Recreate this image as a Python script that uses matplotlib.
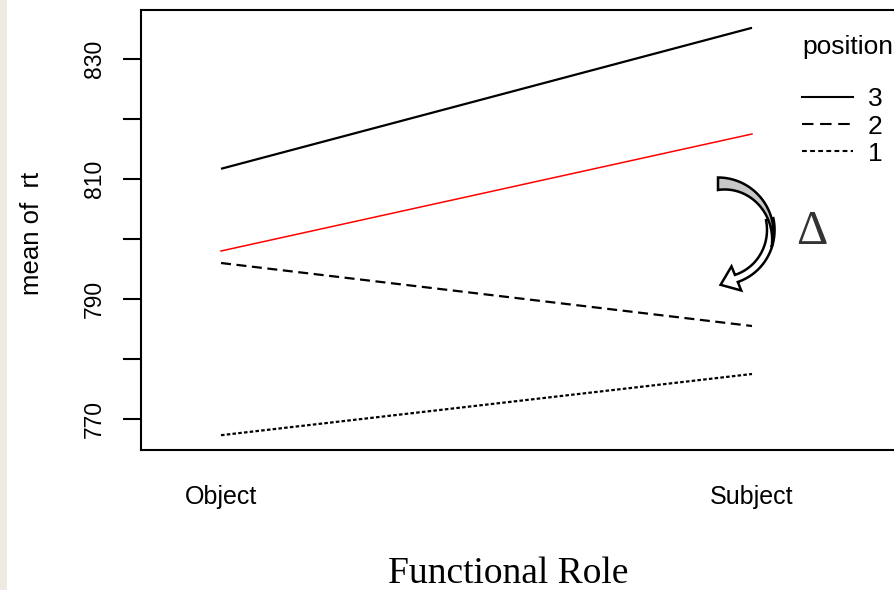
import numpy as np
import matplotlib
matplotlib.use("Agg")
import matplotlib.pyplot as plt
from matplotlib import transforms as mtransforms
from matplotlib.patches import Polygon, Rectangle
from matplotlib.lines import Line2D

# ---- data ----
roles = ["Object", "Subject"]
pos3 = [811.7, 835.2]
pos2 = [796.0, 785.5]
pos1 = [767.3, 777.5]
hypothetical = [798.0, 817.5]
y_ticks = [770, 780, 790, 800, 810, 820, 830]
y_tick_labels = ["770", "", "790", "", "810", "", "830"]
legend_title = "position"
legend_labels = ["3", "2", "1"]

W, H = 894, 590
fig = plt.figure(figsize=(W / 100, H / 100), dpi=100)
fig.patch.set_facecolor("white")

# pixel -> figure transform (y measured from top)
pix = mtransforms.Affine2D().scale(1 / W, -1 / H).translate(0, 1) + fig.transFigure

# beige strip on the left
fig.add_artist(Rectangle((0, 0), 7, H, transform=pix, facecolor="#EEEAE2",
                         edgecolor="none", zorder=0))

left, top, bottom, right = 141, 10, 450, 960
ax = fig.add_axes([left / W, 1 - bottom / H, (right - left) / W, (bottom - top) / H])

x = np.arange(1, len(roles) + 1)
px_per_x = 531.0
ax.set_xlim(1 - (221 - left) / px_per_x, 2 + (right - 752) / px_per_x)
px_per_y = 6.0
ax.set_ylim(770 - (bottom - 419) / px_per_y, 830 + (59 - top) / px_per_y)

ax.plot(x, pos3, color="black", lw=1.6, solid_capstyle="butt")
ax.plot(x, hypothetical, color="red", lw=1.1)
ax.plot(x, pos2, color="black", lw=1.6, dashes=(4.5, 2.5))
ax.plot(x, pos1, color="black", lw=1.6, dashes=(1.6, 1.0))

for s in ax.spines.values():
    s.set_linewidth(1.5)

ax.set_yticks(y_ticks)
ax.set_yticklabels(y_tick_labels, rotation=90, va="center",
                   fontfamily="Liberation Sans", fontsize=16.5)
ax.tick_params(axis="y", length=13, width=1.5, pad=12)
ax.set_xticks(x)
ax.set_xticklabels(roles, fontfamily="Liberation Sans", fontsize=18)
ax.tick_params(axis="x", length=0, pad=25)

fig.text(32 / W, 1 - 233 / H, "mean of  rt", rotation=90, ha="center", va="center",
         fontfamily="Liberation Sans", fontsize=18.5)
fig.text(508 / W, 1 - 574 / H, "Functional Role", ha="center", va="center",
         fontfamily="Liberation Serif", fontsize=27)

# legend
fig.text(802 / W, 1 - 47 / H, legend_title, ha="left", va="center",
         fontfamily="Liberation Sans", fontsize=19)
leg_styles = [dict(), dict(dashes=(5.5, 3.2)), dict(dashes=(2.3, 1.6))]
for i, (lab, st) in enumerate(zip(legend_labels, leg_styles)):
    yy = 97 + 27 * i
    fig.add_artist(Line2D([802, 853], [yy, yy], transform=pix,
                          color="black", lw=1.5, **st))
    fig.text(868 / W, 1 - (yy + 2.5) / H, lab, ha="left", va="center",
             fontfamily="Liberation Sans", fontsize=19)

# curved arrow (annotation)
cx, cy = 718, 233


def pt(r, th):
    t = np.deg2rad(th)
    return (cx + r * np.cos(t), cy - r * np.sin(t))


# white shaft + head
ths = np.linspace(15, -68, 60)
rc = np.linspace(53.5, 49, 60)
hw = 3.8
outer = [pt(r + hw, t) for r, t in zip(rc, ths)]
inner = [pt(r - hw, t) for r, t in zip(rc, ths)]
te = np.deg2rad(-68)
base = np.array(pt(49, -68))
tang = np.array([np.sin(te), np.cos(te)])
nrm = np.array([np.cos(te), -np.sin(te)])
wing_out = base + 13 * nrm
wing_in = base - 13 * nrm
tip = base + 17 * tang
poly = outer + [tuple(wing_out), tuple(tip), tuple(wing_in)] + inner[::-1]
fig.add_artist(Polygon(poly, closed=True, transform=pix, facecolor="white",
                       edgecolor="black", lw=1.8, joinstyle="miter", zorder=5))

# gray back band
ths2 = np.linspace(90, -15, 60)
ro = np.full(60, 55.5)
ri = np.linspace(43, 55.5, 60)
g_out = [pt(r, t) for r, t in zip(ro, ths2)]
g_in = [pt(r, t) for r, t in zip(ri, ths2)]
fig.add_artist(Polygon(g_out + g_in[::-1], closed=True, transform=pix,
                       facecolor="#C8C8C8", edgecolor="black", lw=1.8, zorder=6))

fig.text(812 / W, 1 - 232 / H, "\u0394", ha="center", va="center",
         fontfamily="Liberation Serif", fontsize=35, color="#333333")

fig.savefig("out.png", dpi=100)
